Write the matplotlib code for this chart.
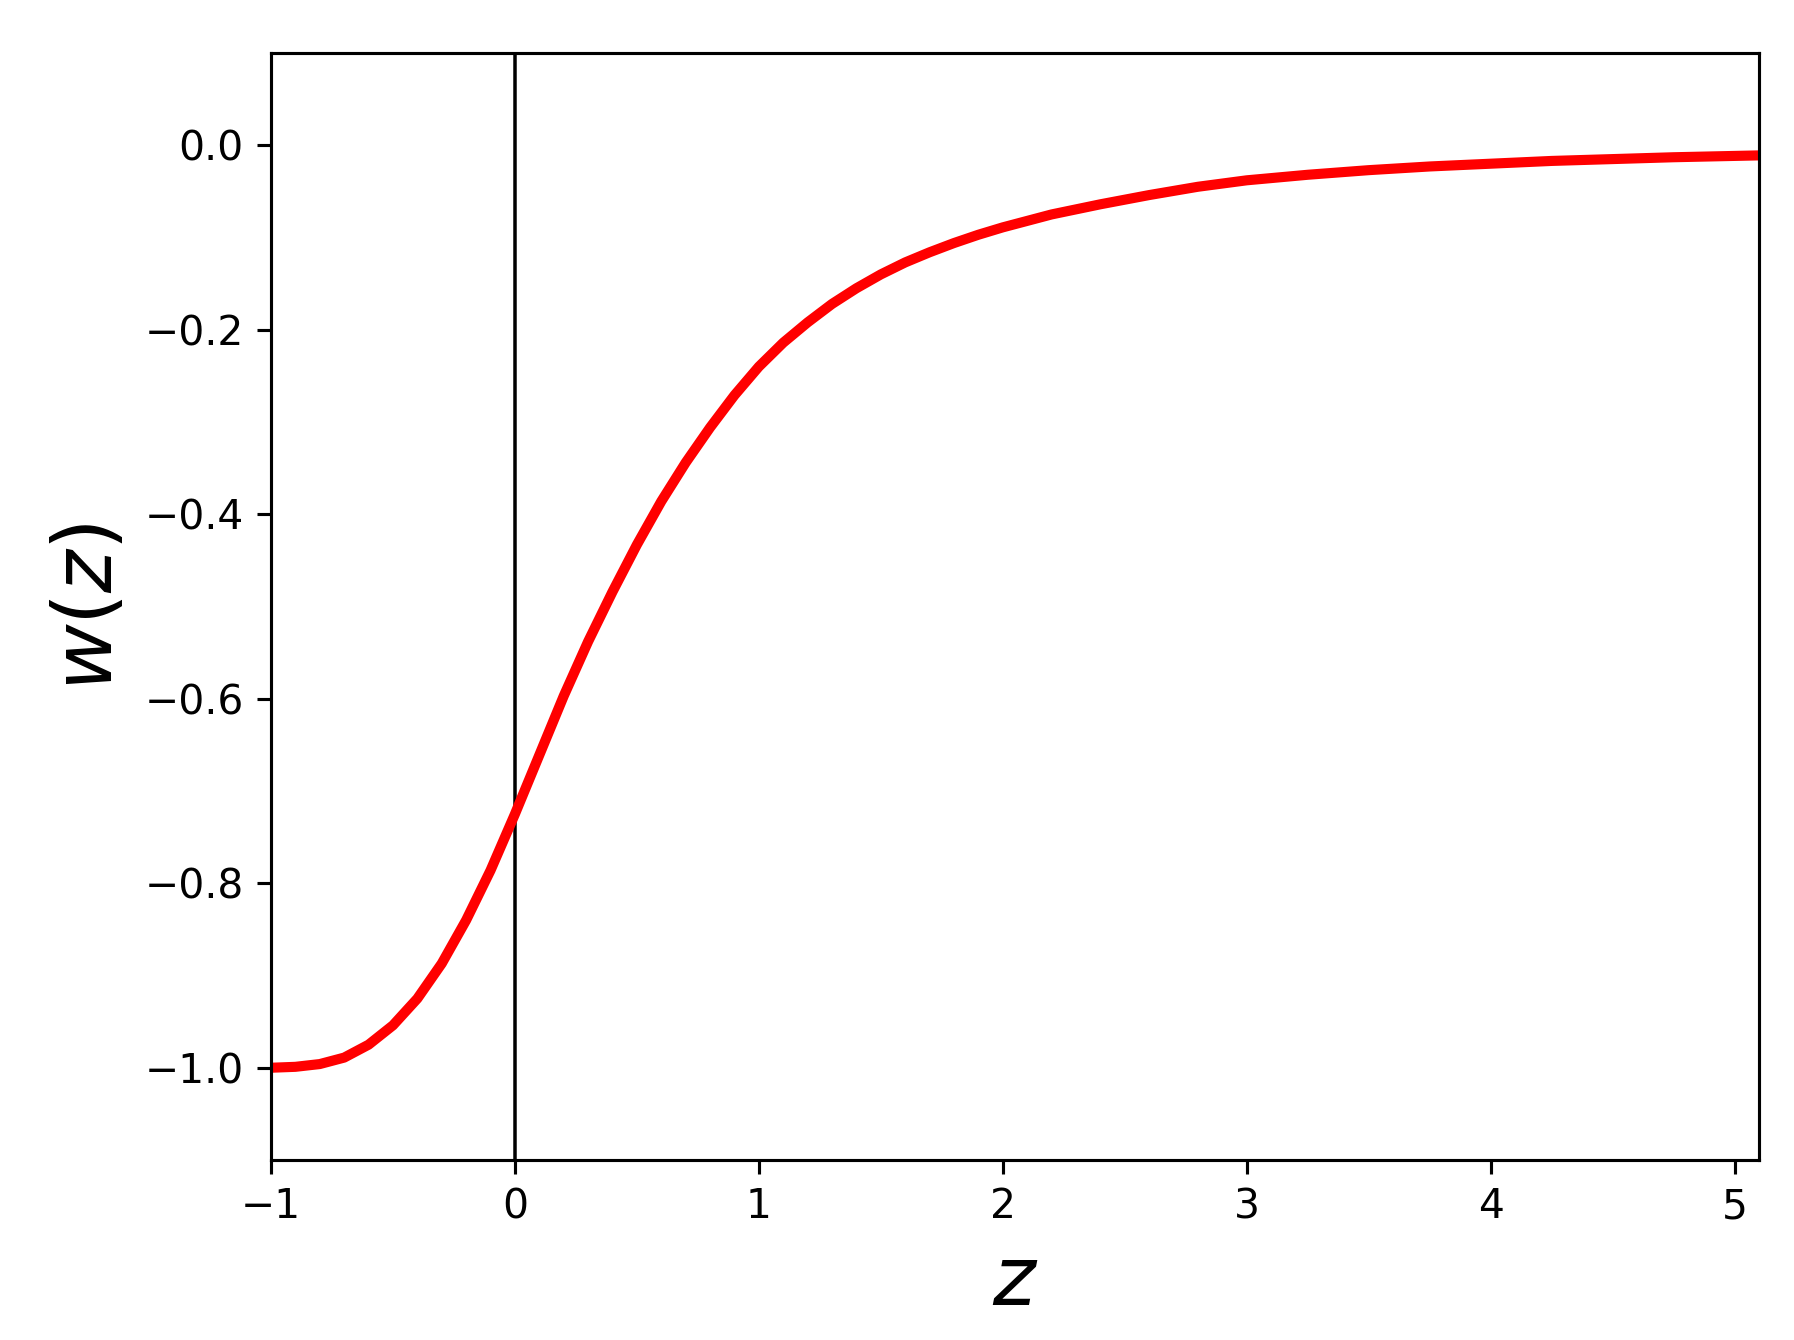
import matplotlib
matplotlib.use("Agg")
import matplotlib.pyplot as plt

# values
z = [-1.0, -0.9, -0.8, -0.7, -0.6, -0.5, -0.4, -0.3, -0.2, -0.1,
     0.0, 0.1, 0.2, 0.3, 0.4, 0.5, 0.6, 0.7, 0.8, 0.9,
     1.0, 1.1, 1.2, 1.3, 1.4, 1.5, 1.6, 1.7, 1.8, 1.9,
     2.0, 2.2, 2.4, 2.6, 2.8, 3.0, 3.25, 3.5, 3.75, 4.0,
     4.25, 4.5, 4.75, 5.1]
w = [-1.000, -0.999, -0.996, -0.989, -0.975, -0.954, -0.925, -0.887, -0.840, -0.786,
     -0.725, -0.661, -0.597, -0.538, -0.484, -0.433, -0.386, -0.344, -0.306, -0.271,
     -0.240, -0.214, -0.192, -0.172, -0.155, -0.140, -0.127, -0.116, -0.106, -0.097,
     -0.089, -0.075, -0.064, -0.054, -0.045, -0.038, -0.032, -0.027, -0.023, -0.020,
     -0.017, -0.015, -0.013, -0.011]

xticks = [-1, 0, 1, 2, 3, 4, 5]
yticks = [0.0, -0.2, -0.4, -0.6, -0.8, -1.0]

fig = plt.figure(figsize=(1794 / 280, 1340 / 280), dpi=280)
ax = fig.add_axes([271 / 1794, 1 - 1160 / 1340, (1759 - 271) / 1794, (1160 - 53) / 1340])

ax.axvline(0, color='k', lw=0.9)
ax.plot(z, w, color='red', lw=2.6)

ax.set_xlim(-1, 5.1)
ax.set_ylim(-1.1, 0.1)
ax.set_xticks(xticks)
ax.set_yticks(yticks)
ax.tick_params(labelsize=10.5)

ax.set_xlabel(r'$z$', fontsize=21)
ax.set_ylabel(r'$w(z)$', fontsize=21)

fig.savefig('out.png', dpi=280)
